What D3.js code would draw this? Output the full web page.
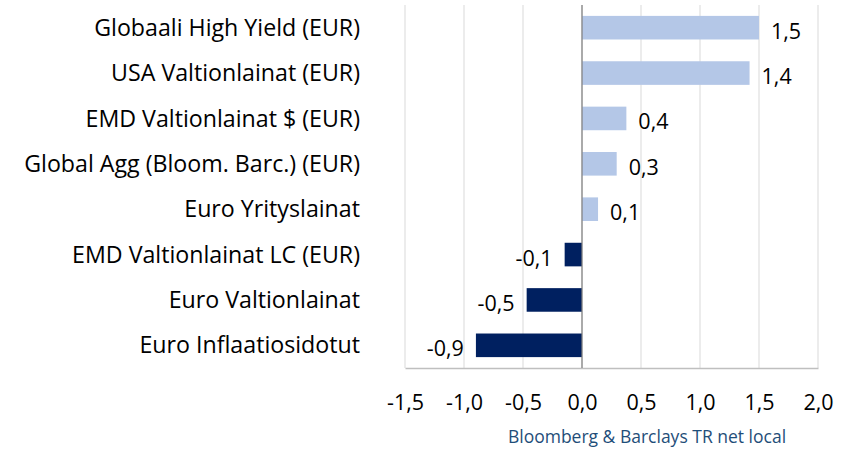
<!DOCTYPE html>
<html>
<head>
<meta charset="utf-8">
<script src="https://cdn.jsdelivr.net/npm/d3@7"></script>
<style>
  body { margin: 0; background: #fff; }
  svg { display: block; font-family: 'Open Sans', sans-serif; }
</style>
</head>
<body>
<div id="chart"></div>
<script>
// Data
const categories = [
  'Globaali High Yield (EUR)',
  'USA Valtionlainat (EUR)',
  'EMD Valtionlainat $ (EUR)',
  'Global Agg (Bloom. Barc.) (EUR)',
  'Euro Yrityslainat',
  'EMD Valtionlainat LC (EUR)',
  'Euro Valtionlainat',
  'Euro Inflaatiosidotut'
];
const values = [1.5, 1.42, 0.376, 0.294, 0.136, -0.147, -0.469, -0.899];
const xTicks = [-1.5, -1.0, -0.5, 0.0, 0.5, 1.0, 1.5, 2.0];
const sourceNote = 'Bloomberg & Barclays TR net local';

const width = 861;
const height = 449;
const margin = { t: 5, r: 43, b: 81, l: 405 };
const innerW = width - margin.l - margin.r;
const innerH = height - margin.t - margin.b;

const fmt = (v) => d3.format('.1f')(v).replace('.', ',').replace('−', '-');

const svg = d3
  .select('#chart')
  .append('svg')
  .attr('width', width)
  .attr('height', height);

const g = svg.append('g').attr('transform', `translate(${margin.l}, ${margin.t})`);

const x = d3.scaleLinear([-1.5, 2.0], [0, innerW]);
const y = d3.scaleBand(categories, [0, innerH]).paddingInner(0.48).paddingOuter(0.24);

// gridlines
g.append('g')
  .selectAll('line')
  .data(xTicks)
  .join('line')
  .attr('x1', (d) => x(d))
  .attr('x2', (d) => x(d))
  .attr('y1', 0)
  .attr('y2', innerH)
  .attr('stroke', '#d9d9d9')
  .attr('stroke-width', 1);

// bottom axis
const xAxis = g
  .append('g')
  .attr('transform', `translate(0, ${innerH})`)
  .call(d3.axisBottom(x).tickValues(xTicks).tickFormat(fmt).tickSize(0).tickPadding(27));
xAxis.select('.domain').attr('stroke', '#bfbfbf').attr('stroke-width', 1.5);
xAxis.selectAll('text').attr('font-size', 21.5).attr('fill', '#000').attr('font-family', 'Open Sans');

// bars
g.append('g')
  .selectAll('rect')
  .data(values)
  .join('rect')
  .attr('x', (d) => x(Math.min(0, d)))
  .attr('y', (d, i) => y(categories[i]))
  .attr('width', (d) => Math.abs(x(d) - x(0)))
  .attr('height', y.bandwidth())
  .attr('fill', (d) => (d >= 0 ? '#b4c7e7' : '#002060'));

// zero line
g.append('line')
  .attr('x1', x(0))
  .attr('x2', x(0))
  .attr('y1', 0)
  .attr('y2', innerH)
  .attr('stroke', '#7f7f7f')
  .attr('stroke-width', 1.2);

// value labels
g.append('g')
  .selectAll('text')
  .data(values)
  .join('text')
  .attr('x', (d) => (d >= 0 ? x(d) + 12 : x(d) - 12))
  .attr('y', (d, i) => y(categories[i]) + y.bandwidth() / 2 + 3.5)
  .attr('dy', '0.35em')
  .attr('text-anchor', (d) => (d >= 0 ? 'start' : 'end'))
  .attr('font-size', 21.5)
  .text((d) => fmt(d));

// category labels
g.append('g')
  .selectAll('text')
  .data(categories)
  .join('text')
  .attr('x', -45)
  .attr('y', (d) => y(d) + y.bandwidth() / 2)
  .attr('dy', '0.35em')
  .attr('text-anchor', 'end')
  .attr('font-size', 23.2)
  .text((d) => d);

// source note
svg
  .append('text')
  .attr('x', 647)
  .attr('y', 437)
  .attr('dy', '0.35em')
  .attr('text-anchor', 'middle')
  .attr('font-size', 17.5)
  .attr('fill', '#1f4e79')
  .text(sourceNote);
</script>
</body>
</html>
